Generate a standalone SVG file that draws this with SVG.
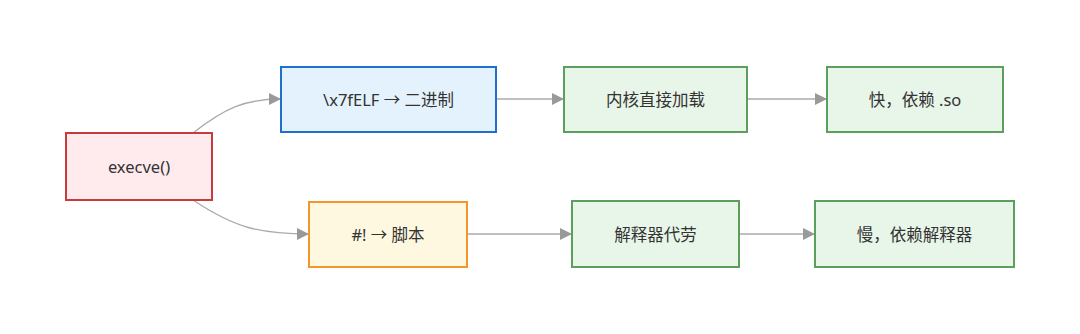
<svg xmlns="http://www.w3.org/2000/svg" width="1080" height="334" viewBox="0 0 1080 334">
<style>
.n rect{stroke-width:2}
.t{font-family:"Noto Sans","Noto Sans CJK SC",sans-serif;font-size:16.5px;fill:#333;text-anchor:middle;dominant-baseline:central}
.red rect{fill:#ffebee;stroke:#c93a3a}
.blue rect{fill:#e3f2fd;stroke:#1f6fcc}
.orange rect{fill:#fff8e1;stroke:#f5962a}
.green rect{fill:#e8f5e9;stroke:#5c9e5c}
.e path{fill:none;stroke:#aaa;stroke-width:1.3}
</style>
<defs>
<marker id="ah" viewBox="0 0 10 10" refX="10" refY="5" markerWidth="12" markerHeight="12" markerUnits="userSpaceOnUse" orient="auto">
<path d="M0,0L10,5L0,10z" fill="#999"/>
</marker>
</defs>
<rect width="1080" height="334" fill="#fff"/>
<g id="edges" class="e">
<path d="M193,133 C225,108 245,99 281,99" marker-end="url(#ah)"/>
<path d="M193,200 C235,228 260,234 309,234" marker-end="url(#ah)"/>
<path d="M496,99 L564,99" marker-end="url(#ah)"/>
<path d="M747,99 L827,99" marker-end="url(#ah)"/>
<path d="M467,234 L572,234" marker-end="url(#ah)"/>
<path d="M739,234 L815,234" marker-end="url(#ah)"/>
</g>
<g id="execve" class="n red"><rect x="66" y="133" width="146" height="67"/><text class="t" x="139" y="166.5">execve()</text></g>
<g id="elf" class="n blue"><rect x="281" y="67" width="215" height="65"/><text class="t" x="388.5" y="99.5">\x7fELF → 二进制</text></g>
<g id="script" class="n orange"><rect x="309" y="202" width="158" height="65"/><text class="t" x="388" y="234.5">#! → 脚本</text></g>
<g id="kernel" class="n green"><rect x="564" y="67" width="183" height="65"/><text class="t" x="655.5" y="99.5">内核直接加载</text></g>
<g id="fast" class="n green"><rect x="827" y="67" width="176" height="65"/><text class="t" x="915" y="99.5">快，依赖 .so</text></g>
<g id="interp" class="n green"><rect x="572" y="201" width="167" height="66"/><text class="t" x="655.5" y="234">解释器代劳</text></g>
<g id="slow" class="n green"><rect x="815" y="201" width="199" height="66"/><text class="t" x="914.5" y="234">慢，依赖解释器</text></g>
</svg>
